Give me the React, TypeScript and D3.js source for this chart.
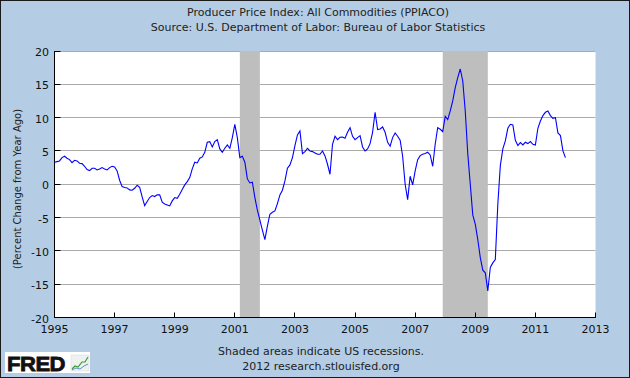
import React from "react";
import * as d3 from "d3";

// Monthly year-over-year % change, PPIACO, starting Jan 1995
const startYear = 1995;
const values: number[] = [
  3.3, 3.4, 3.5, 4.0, 4.2, 3.9, 3.7, 3.25, 3.6, 3.5, 3.15, 3.1,
  2.7, 2.2, 2.05, 2.4, 2.4, 2.15, 2.3, 2.5, 2.3, 2.15, 2.5, 2.7,
  2.6, 2.0, 0.6, -0.35, -0.5, -0.55, -0.85, -0.9, -0.6, -0.15, -0.45, -1.9,
  -3.2, -2.6, -2.0, -1.7, -1.85, -1.6, -1.6, -2.7, -2.95, -3.1, -3.25, -2.5,
  -2.0, -2.1, -1.5, -0.8, -0.1, 0.4, 1.0, 2.3, 3.3, 3.2, 3.9, 4.1,
  4.8, 6.3, 6.4, 5.6, 6.4, 6.7, 5.3, 4.8, 5.4, 5.9, 5.4, 7.0,
  9.0, 7.0, 4.0, 4.2, 3.3, 0.8, 0.2, 0.3, -2.0, -3.9, -5.4, -6.9,
  -8.3, -6.3, -4.5, -4.2, -4.0, -2.9, -1.6, -0.9, 0.5, 2.4, 2.9, 4.0,
  5.8, 7.4, 8.0, 4.6, 4.9, 5.4, 5.0, 4.9, 4.7, 4.5, 4.5, 5.0,
  4.25, 3.0, 1.5, 6.0, 7.2, 6.7, 7.05, 7.1, 6.9, 7.8, 8.5, 7.2,
  6.7, 7.0, 7.3, 5.6, 5.0, 5.3, 6.1, 7.8, 10.8, 8.2, 8.3, 8.6,
  7.8, 6.3, 5.7, 7.0, 7.7, 7.2, 6.6, 4.2, 0.0, -2.3, 1.2, -0.1,
  2.0, 3.7, 4.3, 4.5, 4.6, 4.8, 4.4, 2.7, 6.0, 8.5, 8.25, 7.9,
  10.2, 9.7, 11.0, 12.5, 14.5, 16.0, 17.3, 15.5, 11.0, 4.6, 0.0, -4.6,
  -6.0, -8.3, -11.0, -12.9, -13.3, -16.0, -12.5, -11.8, -11.3, -3.0, 2.8, 5.3,
  6.5, 8.4, 9.0, 8.9, 6.6, 5.8, 6.25, 5.9, 6.3, 6.1, 6.4, 6.0,
  5.9, 8.4, 9.5, 10.3, 10.8, 11.0, 10.3, 9.9, 10.0, 7.7, 7.3, 5.0,
  4.0,
];

const xTicks = [1995, 1997, 1999, 2001, 2003, 2005, 2007, 2009, 2011, 2013];
const yTicks = [-20, -15, -10, -5, 0, 5, 10, 15, 20];
// recession periods [year, month]
const recessionStarts = [[2001, 3], [2007, 12]];
const recessionEnds = [[2001, 11], [2009, 6]];

const titleLines = [
  "Producer Price Index: All Commodities (PPIACO)",
  "Source: U.S. Department of Labor: Bureau of Labor Statistics",
];
const yLabel = "(Percent Change from Year Ago)";
const footLines = ["Shaded areas indicate US recessions.", "2012 research.stlouisfed.org"];

const W = 630;
const H = 378;
const FONT = "'DejaVu Sans', Verdana, sans-serif";

export default function App() {
  const x = d3.scaleLinear().domain([1995, 2013]).range([54.5, 595.5]);
  const y = d3.scaleLinear().domain([-20, 20]).range([317.5, 51]);
  const px = (v: number) => Math.floor(v) + 0.5;

  const line = d3
    .line<number>()
    .x((_, i) => x(startYear + i / 12))
    .y((d) => y(d));

  const left = x(1995);
  const right = x(2013);
  const top = y(20);
  const bottom = y(-20);

  return (
    <svg
      width={W}
      height={H}
      style={{ position: "absolute", left: 0, top: 0 }}
      fontFamily={FONT}
    >
      <rect x={0.5} y={0.5} width={W - 1} height={H - 1} fill="#B4CDE4" stroke="#1a1a1a" />
      {titleLines.map((t, i) => (
        <text key={i} x={318} y={16 + i * 15} fontSize={11} textAnchor="middle" fill="#222">
          {t}
        </text>
      ))}
      <rect x={left} y={top} width={right - left} height={bottom - top} fill="#ffffff" />
      {yTicks.filter((v) => v > -20).map((v) => (
        <line key={v} x1={left} x2={right} y1={px(y(v))} y2={px(y(v))} stroke="#AAAAAA" strokeWidth={1} />
      ))}
      {recessionStarts.map((s, i) => {
        const e = recessionEnds[i];
        const x0 = x(s[0] + (s[1] - 1) / 12);
        const x1 = x(e[0] + (e[1] - 1) / 12);
        return <rect key={i} x={x0} y={top} width={x1 - x0} height={bottom - top} fill="#BEBEBE" />;
      })}
      <line x1={px(left)} x2={px(left)} y1={top} y2={bottom + 0.5} stroke="#000" />
      <line x1={left} x2={right + 0.5} y1={px(bottom)} y2={px(bottom)} stroke="#000" />
      {yTicks.map((v) => (
        <g key={v}>
          <line x1={left} x2={left + 6} y1={px(y(v))} y2={px(y(v))} stroke="#000" />
          <text x={49} y={y(v) + 5} fontSize={11} textAnchor="end" fill="#111">
            {v}
          </text>
        </g>
      ))}
      {xTicks.map((t) => (
        <g key={t}>
          <line x1={px(x(t))} x2={px(x(t))} y1={bottom - 5} y2={bottom} stroke="#000" />
          <text x={x(t)} y={333} fontSize={11} textAnchor="middle" fill="#111">
            {t}
          </text>
        </g>
      ))}
      <text
        transform={`translate(21,189) rotate(-90)`}
        fontSize={10}
        textAnchor="middle"
        fill="#222"
      >
        {yLabel}
      </text>
      <path d={line(values) || ""} fill="none" stroke="#0000FF" strokeWidth={1.1} />
      {footLines.map((t, i) => (
        <text key={i} x={321} y={355 + i * 15} fontSize={11} textAnchor="middle" fill="#222">
          {t}
        </text>
      ))}
      <g>
        <rect x={5} y={352} width={85} height={21} fill="#ffffff" />
        <text
          x={7}
          y={371}
          fontSize={21}
          fontWeight="bold"
          fontFamily="'Liberation Sans', Arial, sans-serif"
          fill="#111"
          stroke="#111"
          strokeWidth={0.8}
          letterSpacing={-0.5}
          textLength={58}
          lengthAdjust="spacingAndGlyphs"
        >
          FRED
        </text>
        <rect x={71} y={355} width={18} height={16} fill="#eef2ee" stroke="#d8d8d8" strokeWidth={0.5} />
        <polyline points="72,369 75,366 78,367 82,362 85,362 88,357" fill="none" stroke="#3a9a3a" strokeWidth={1.2} />
        <polyline points="72,370 76,368 80,369 84,366 88,364" fill="none" stroke="#5a8fd0" strokeWidth={1} />
      </g>
    </svg>
  );
}
